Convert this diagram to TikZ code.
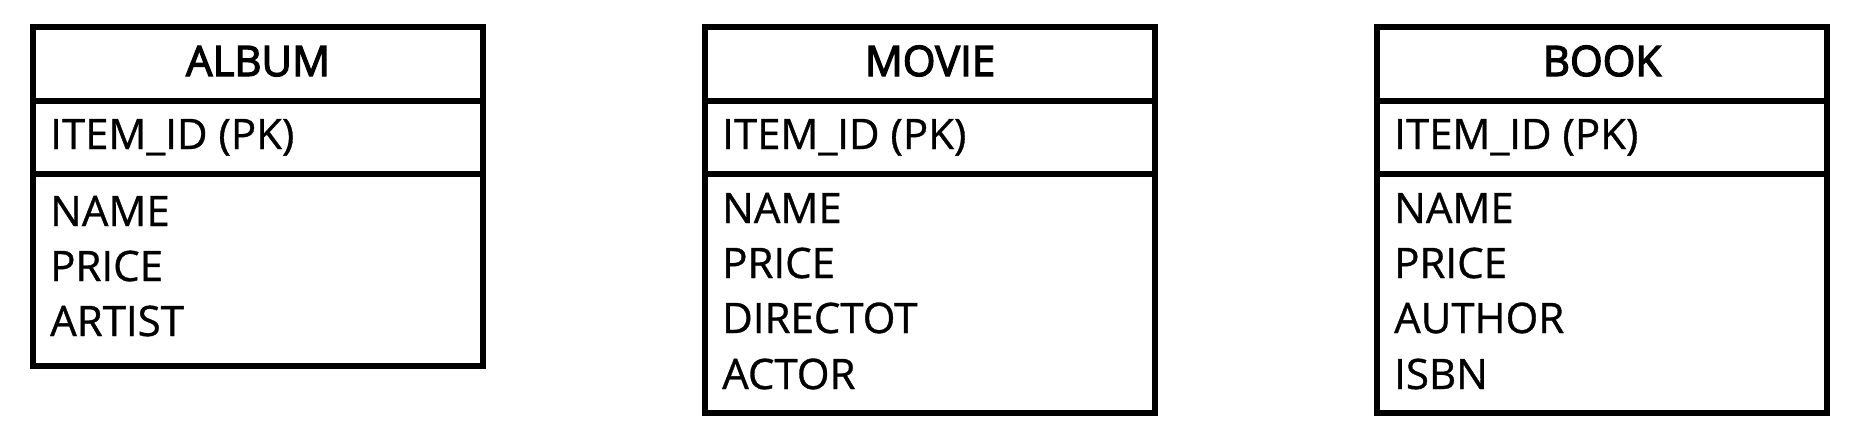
\documentclass[tikz,border=0pt]{standalone}
\usepackage{fontspec}
\setmainfont[FakeBold=0.8]{Open Sans}
\newfontfamily\ttlfont[FakeBold=3]{Open Sans}
\begin{document}
\begin{tikzpicture}[x=1pt,y=-1pt,
  tbl/.style={draw=black, line width=5.5pt, rectangle, inner sep=0pt, outer sep=0pt, anchor=north west, minimum width=450pt},
  sepline/.style={draw=black, line width=5.5pt},
  ttl/.style={anchor=base, inner sep=0pt, font=\ttlfont\fontsize{42}{50}\selectfont},
  fld/.style={anchor=base west, inner sep=0pt, font=\fontsize{42}{50}\selectfont}]
\useasboundingbox[fill=white] (0,0) rectangle (1862,444);
% ALBUM
\node[tbl, minimum height=339pt] (album) at (33,27) {};
\draw[sepline] ([yshift=-74pt]album.north west) -- ([yshift=-74pt]album.north east);
\draw[sepline] ([yshift=-147pt]album.north west) -- ([yshift=-147pt]album.north east);
\node[ttl] (albumt) at (258,76) {ALBUM};
\node[fld] (albumpk) at (50,149) {ITEM\_ID (PK)};
\node[fld] (albuma1) at (50,226) {NAME};
\node[fld] (albuma2) at (50,281) {PRICE};
\node[fld] (albuma3) at (50,336) {ARTIST};
% MOVIE
\node[tbl, minimum height=386pt] (movie) at (705,27) {};
\draw[sepline] ([yshift=-74pt]movie.north west) -- ([yshift=-74pt]movie.north east);
\draw[sepline] ([yshift=-147pt]movie.north west) -- ([yshift=-147pt]movie.north east);
\node[ttl] (moviet) at (930,76) {MOVIE};
\node[fld] (moviepk) at (722,149) {ITEM\_ID (PK)};
\node[fld] (moviea1) at (722,223) {NAME};
\node[fld] (moviea2) at (722,278) {PRICE};
\node[fld] (moviea3) at (722,333) {DIRECTOT};
\node[fld] (moviea4) at (722,389) {ACTOR};
% BOOK
\node[tbl, minimum height=386pt] (book) at (1377,27) {};
\draw[sepline] ([yshift=-74pt]book.north west) -- ([yshift=-74pt]book.north east);
\draw[sepline] ([yshift=-147pt]book.north west) -- ([yshift=-147pt]book.north east);
\node[ttl] (bookt) at (1602,76) {BOOK};
\node[fld] (bookpk) at (1394,149) {ITEM\_ID (PK)};
\node[fld] (booka1) at (1394,223) {NAME};
\node[fld] (booka2) at (1394,278) {PRICE};
\node[fld] (booka3) at (1394,333) {AUTHOR};
\node[fld] (booka4) at (1394,389) {ISBN};
\end{tikzpicture}
\end{document}
